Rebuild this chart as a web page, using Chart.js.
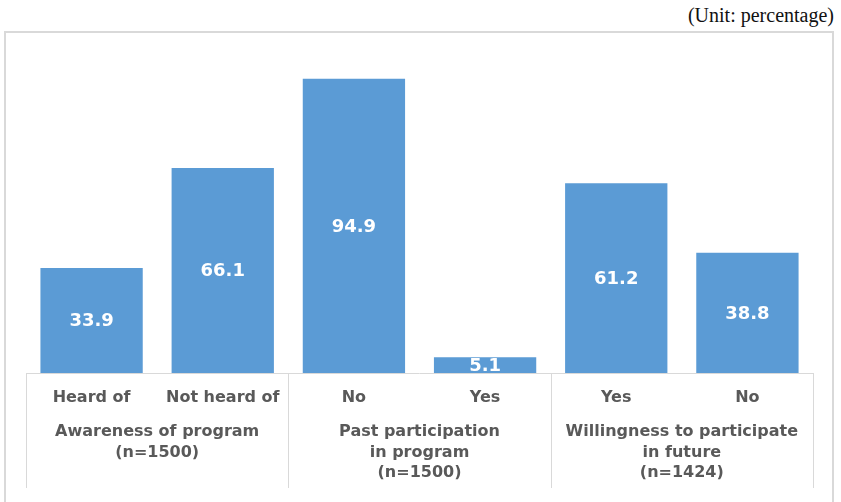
<!DOCTYPE html>
<html>
<head>
<meta charset="utf-8">
<script src="https://cdn.jsdelivr.net/npm/chart.js@4/dist/chart.umd.min.js"></script>
<style>
  html, body { margin: 0; padding: 0; background: #fff; }
  body { width: 841px; height: 502px; position: relative; overflow: hidden; }
  .unit {
    position: absolute; right: 7px; top: 4px;
    font-family: "Liberation Serif", "Times New Roman", serif;
    font-size: 20px; color: #111;
  }
  .frame {
    position: absolute; left: 4px; top: 31px; width: 826px; height: 480px;
    border: 2px solid #d9d9d9;
  }
  #chart { position: absolute; left: 0; top: 0; }
</style>
</head>
<body>
<div class="unit">(Unit: percentage)</div>
<div class="frame"></div>
<canvas id="chart" width="841" height="502"></canvas>
<script>
const categories = ['Heard of', 'Not heard of', 'No', 'Yes', 'Yes', 'No'];
const values = [33.9, 66.1, 94.9, 5.1, 61.2, 38.8];
const groups = [
  ['Awareness of program', '(n=1500)'],
  ['Past participation', 'in program', '(n=1500)'],
  ['Willingness to participate', 'in future', '(n=1424)']
];
const groupSize = 2;

const labelFont = 'bold 16px "DejaVu Sans"';
const textGrey = '#595959';
const lineGrey = '#d9d9d9';

// white value labels in the middle of each bar, clipped to the plot
const valueLabels = {
  id: 'valueLabels',
  afterDatasetsDraw(chart) {
    const { ctx, chartArea } = chart;
    const meta = chart.getDatasetMeta(0);
    ctx.save();
    ctx.beginPath();
    ctx.rect(chartArea.left, chartArea.top, chartArea.right - chartArea.left, chartArea.bottom - chartArea.top);
    ctx.clip();
    ctx.font = 'bold 18px "DejaVu Sans"';
    ctx.fillStyle = '#ffffff';
    ctx.textAlign = 'center';
    ctx.textBaseline = 'middle';
    meta.data.forEach((bar, i) => {
      ctx.fillText(values[i].toFixed(1), bar.x, (bar.y + bar.base) / 2 + 1);
    });
    ctx.restore();
  }
};

// axis line, group dividers and group titles under the category labels
const groupAxis = {
  id: 'groupAxis',
  afterDraw(chart) {
    const { ctx, chartArea } = chart;
    const x = chart.scales.x;
    const y0 = chartArea.bottom;
    const edge = i => {
      if (i <= 0) return chartArea.left;
      if (i >= categories.length) return chartArea.right;
      return (x.getPixelForValue(i - 1) + x.getPixelForValue(i)) / 2;
    };
    ctx.save();
    ctx.strokeStyle = lineGrey;
    ctx.lineWidth = 1;
    ctx.beginPath();
    ctx.moveTo(chartArea.left, y0 + 0.5);
    ctx.lineTo(chartArea.right, y0 + 0.5);
    for (let g = 0; g <= groups.length; g++) {
      const px = Math.round(edge(g * groupSize)) + 0.5;
      ctx.moveTo(px, y0);
      ctx.lineTo(px, y0 + 115);
    }
    ctx.stroke();

    ctx.font = labelFont;
    ctx.fillStyle = textGrey;
    ctx.textAlign = 'center';
    ctx.textBaseline = 'middle';
    groups.forEach((lines, g) => {
      const cx = (edge(g * groupSize) + edge((g + 1) * groupSize)) / 2;
      lines.forEach((line, k) => {
        ctx.fillText(line, cx, y0 + 59 + k * 20.5);
      });
    });
    ctx.restore();
  }
};

new Chart(document.getElementById('chart'), {
  type: 'bar',
  data: {
    labels: categories,
    datasets: [{
      data: values,
      backgroundColor: '#5b9bd5',
      borderWidth: 0,
      barPercentage: 0.78,
      categoryPercentage: 1
    }]
  },
  options: {
    responsive: false,
    animation: false,
    layout: { padding: { left: 26, right: 28, top: 63, bottom: 0 } },
    plugins: { legend: { display: false }, tooltip: { enabled: false } },
    scales: {
      y: { display: false, min: 0, max: 100 },
      x: {
        afterFit(scale) { scale.height = 129; },
        grid: { display: false, drawTicks: false },
        border: { display: false },
        ticks: {
          color: textGrey,
          font: { family: 'DejaVu Sans', size: 16, weight: 'bold' },
          padding: 15,
          maxRotation: 0,
          autoSkip: false
        }
      }
    }
  },
  plugins: [valueLabels, groupAxis]
});
</script>
</body>
</html>
